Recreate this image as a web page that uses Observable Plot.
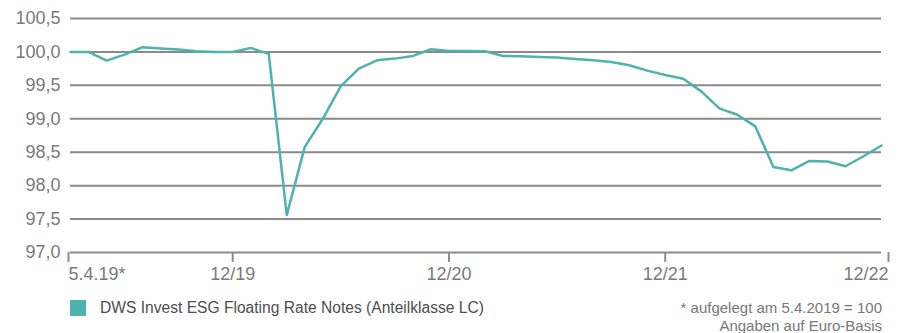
<!DOCTYPE html>
<html>
<head>
<meta charset="utf-8">
<script src="https://cdn.jsdelivr.net/npm/d3@7"></script>
<script src="https://cdn.jsdelivr.net/npm/@observablehq/plot@0.6"></script>
<style>
  body { margin: 0; background: #fff; }
  #wrap { position: relative; width: 901px; height: 333px; font-family: "Liberation Sans", Arial, sans-serif; overflow: hidden; }
  #chart { position: absolute; left: 0; top: 0; }
  #legend { position: absolute; left: 70px; top: 299px; display: flex; align-items: center; font-size: 15.6px; color: #4d4d4d; }
  #legend .sw { width: 16px; height: 16px; margin-right: 14px; }
  #note { position: absolute; right: 19px; top: 299px; text-align: right; font-size: 15px; line-height: 18px; color: #777; }
</style>
</head>
<body>
<div id="wrap">
  <div id="chart"></div>
  <div id="legend"></div>
  <div id="note"></div>
</div>
<script>
// Monthly points, first = launch date 5.4.2019
const months = [
  "2019-04-05","2019-04","2019-05","2019-06","2019-07","2019-08","2019-09","2019-10","2019-11","2019-12",
  "2020-01","2020-02","2020-03","2020-04","2020-05","2020-06","2020-07","2020-08","2020-09","2020-10","2020-11","2020-12",
  "2021-01","2021-02","2021-03","2021-04","2021-05","2021-06","2021-07","2021-08","2021-09","2021-10","2021-11","2021-12",
  "2022-01","2022-02","2022-03","2022-04","2022-05","2022-06","2022-07","2022-08","2022-09","2022-10","2022-11","2022-12"
];
const values = [
  100.00, 100.00, 99.87, 99.96, 100.07, 100.05, 100.035, 100.01, 100.00, 100.00,
  100.06, 99.97, 97.56, 98.58, 99.00, 99.49, 99.75, 99.875, 99.90, 99.94, 100.04, 100.015,
  100.015, 100.01, 99.94, 99.935, 99.925, 99.915, 99.895, 99.875, 99.85, 99.80, 99.72, 99.655,
  99.60, 99.41, 99.155, 99.06, 98.886, 98.28, 98.23, 98.37, 98.36, 98.29, 98.44, 98.60
];
const xTickMonths = ["2019-04-05", "2019-12", "2020-12", "2021-12", "2022-12"];
const xTickLabels = ["5.4.19*", "12/19", "12/20", "12/21", "12/22"];
const yTicks = [97.0, 97.5, 98.0, 98.5, 99.0, 99.5, 100.0, 100.5];
const yTickLabels = ["97,0", "97,5", "98,0", "98,5", "99,0", "99,5", "100,0", "100,5"];
const seriesName = "DWS Invest ESG Floating Rate Notes (Anteilklasse LC)";
const noteLines = ["* aufgelegt am 5.4.2019 = 100", "Angaben auf Euro-Basis"];
const lineColor = "#4eb2ae";

const rows = months.map((m, i) => ({ i, month: m, value: values[i] }));
const xTicks = xTickMonths.map(m => months.indexOf(m));
const xLabel = d => xTickLabels[xTicks.indexOf(d)];
const yLabel = d => yTickLabels[yTicks.indexOf(d)];

const axisCommon = {
  label: null, tickSize: 10, tickPadding: 5,
  stroke: "#8d8d8d", strokeWidth: 2, fill: "#7a7a7a", fontSize: 18,
  tickFormat: xLabel
};

const chart = Plot.plot({
  width: 901,
  height: 288,
  marginLeft: 70,
  marginRight: 20,
  marginTop: 18,
  marginBottom: 36,
  x: { type: "linear", domain: [0, months.length - 1] },
  y: { domain: [97, 100.5] },
  style: { fontFamily: "'Liberation Sans', Arial, sans-serif", fontSize: "18px", background: "transparent", overflow: "visible" },
  marks: [
    Plot.ruleY(yTicks, { stroke: "#8a8a8a", strokeWidth: 2 }),
    Plot.axisY({ ticks: yTicks, tickFormat: yLabel, tickSize: 0, tickPadding: 10, label: null, fill: "#7a7a7a", fontSize: 18 }),
    Plot.axisX({ ...axisCommon, ticks: [xTicks[0]], textAnchor: "start", dx: -2 }),
    Plot.axisX({ ...axisCommon, ticks: xTicks.slice(1, -1) }),
    Plot.axisX({ ...axisCommon, ticks: [xTicks[xTicks.length - 1]], textAnchor: "end", dx: 7 }),
    Plot.line(rows, { x: "i", y: "value", stroke: lineColor, strokeWidth: 2.5, strokeLinejoin: "round" })
  ]
});
document.getElementById("chart").appendChild(chart);

const legend = document.getElementById("legend");
const sw = document.createElement("div");
sw.className = "sw";
sw.style.background = lineColor;
legend.appendChild(sw);
const lt = document.createElement("span");
lt.textContent = seriesName;
legend.appendChild(lt);

const note = document.getElementById("note");
noteLines.forEach(t => { const d = document.createElement("div"); d.textContent = t; note.appendChild(d); });
</script>
</body>
</html>
